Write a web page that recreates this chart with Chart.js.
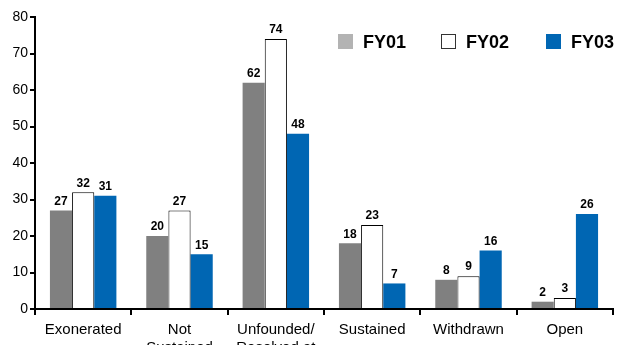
<!DOCTYPE html>
<html>
<head>
<meta charset="utf-8">
<script src="https://cdn.jsdelivr.net/npm/chart.js@4"></script>
<style>
  html, body { margin: 0; padding: 0; background: #fff; overflow: hidden; }
  #wrap { position: relative; width: 618px; height: 380px; }
</style>
</head>
<body>
<div id="wrap"><canvas id="chart"></canvas></div>
<script>
const categories = ['Exonerated', ['Not', 'Sustained'], ['Unfounded/', 'Resolved at', 'Intake'], 'Sustained', 'Withdrawn', 'Open'];
const fy01 = [27, 20, 62, 18, 8, 2];
const fy02 = [32, 27, 74, 23, 9, 3];
const fy03 = [31, 15, 48, 7, 16, 26];
const seriesNames = ['FY01', 'FY02', 'FY03'];
const yTicks = [0, 10, 20, 30, 40, 50, 60, 70, 80];

// value labels above each bar
const barLabels = {
    id: 'barLabels',
    afterDatasetsDraw(chart) {
        const ctx = chart.ctx;
        ctx.save();
        ctx.font = 'bold 12px Arial, "Liberation Sans", sans-serif';
        ctx.fillStyle = '#000';
        ctx.textAlign = 'center';
        ctx.textBaseline = 'bottom';
        chart.data.datasets.forEach((ds, i) => {
            chart.getDatasetMeta(i).data.forEach((bar, j) => {
                ctx.fillText(ds.data[j], bar.x, bar.y - 3);
            });
        });
        ctx.restore();
    }
};

// legend drawn by hand, top right
const legendBoxes = {
    id: 'legendBoxes',
    afterDraw(chart) {
        const ctx = chart.ctx;
        const pos = [338, 441, 546];
        const fills = ['#b3b3b3', '#ffffff', '#0066b3'];
        ctx.save();
        ctx.font = 'bold 18px Arial, "Liberation Sans", sans-serif';
        ctx.textBaseline = 'middle';
        ctx.textAlign = 'left';
        seriesNames.forEach((name, i) => {
            ctx.fillStyle = fills[i];
            ctx.fillRect(pos[i], 34, 15, 15);
            if (i === 1) {
                ctx.strokeStyle = '#333';
                ctx.lineWidth = 1;
                ctx.strokeRect(pos[i] + 0.5, 34.5, 14, 14);
            }
            ctx.fillStyle = '#000';
            ctx.fillText(name, pos[i] + 25, 43);
        });
        ctx.restore();
    }
};

new Chart(document.getElementById('chart'), {
    type: 'bar',
    data: {
        labels: categories,
        datasets: [
            { label: seriesNames[0], data: fy01, backgroundColor: '#808080', borderWidth: 0 },
            { label: seriesNames[1], data: fy02, backgroundColor: '#ffffff', borderColor: '#000', borderWidth: 1 },
            { label: seriesNames[2], data: fy03, backgroundColor: '#0066b3', borderWidth: 0 }
        ]
    },
    options: {
        responsive: true,
        maintainAspectRatio: false,
        animation: false,
        layout: { padding: { left: 0, right: 5, top: 17, bottom: 0 } },
        plugins: { legend: { display: false }, tooltip: { enabled: false } },
        datasets: { bar: { categoryPercentage: 0.69, barPercentage: 1.0 } },
        scales: {
            x: {
                grid: { offset: true, drawOnChartArea: false, color: '#000', tickLength: 6, lineWidth: 2 },
                border: { color: '#000', width: 2 },
                ticks: {
                    color: '#000',
                    padding: 6,
                    maxRotation: 0,
                    autoSkip: false,
                    font: { family: 'Arial, "Liberation Sans", sans-serif', size: 15, lineHeight: 1.2 }
                },
                afterFit(scale) { scale.height = 71; }
            },
            y: {
                min: 0,
                max: 80,
                afterBuildTicks(scale) { scale.ticks = yTicks.map(v => ({ value: v })); },
                grid: { drawOnChartArea: false, color: '#000', tickLength: 5, lineWidth: 2 },
                border: { color: '#000', width: 2 },
                ticks: {
                    color: '#000',
                    padding: 2,
                    font: { family: 'Arial, "Liberation Sans", sans-serif', size: 14 }
                },
                afterFit(scale) { scale.width = 35; }
            }
        }
    },
    plugins: [barLabels, legendBoxes]
});
</script>
</body>
</html>
